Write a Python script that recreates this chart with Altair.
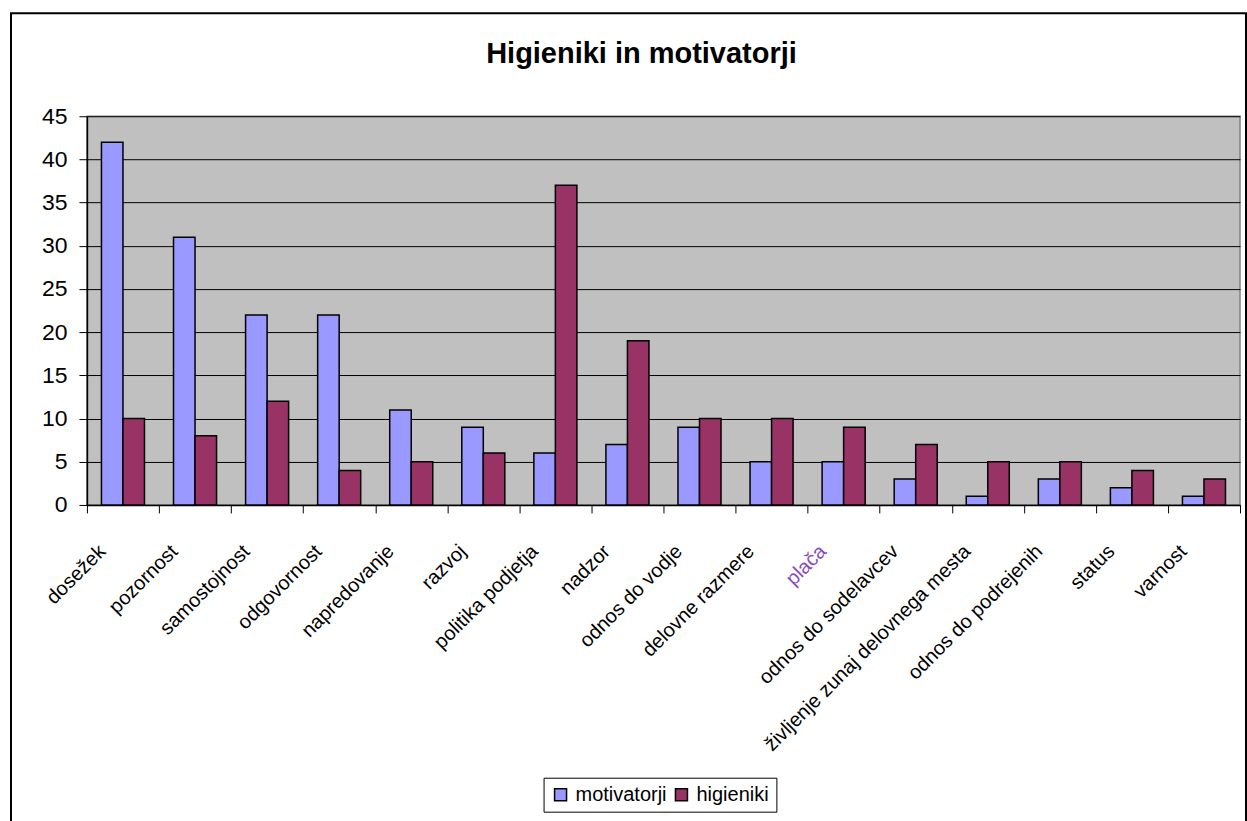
import altair as alt
import pandas as pd

categories = ["dosežek", "pozornost", "samostojnost", "odgovornost", "napredovanje",
              "razvoj", "politika podjetja", "nadzor", "odnos do vodje",
              "delovne razmere", "plača", "odnos do sodelavcev",
              "življenje zunaj delovnega mesta", "odnos do podrejenih", "status", "varnost"]
motivatorji = [42, 31, 22, 22, 11, 9, 6, 7, 9, 5, 5, 3, 1, 3, 2, 1]
higieniki = [10, 8, 12, 4, 5, 6, 37, 19, 10, 10, 9, 7, 5, 5, 4, 3]
series = ["motivatorji", "higieniki"]
colors = ["#9999FF", "#993366"]
y_ticks = [0, 5, 10, 15, 20, 25, 30, 35, 40, 45]
title_text = ["Higieniki in motivatorji"]

rows = []
for c, m, h in zip(categories, motivatorji, higieniki):
    rows.append({"kategorija": c, "serija": series[0], "vrednost": m})
    rows.append({"kategorija": c, "serija": series[1], "vrednost": h})
df = pd.DataFrame(rows)

FONT = "Liberation Sans"

bars = alt.Chart(df).mark_bar(stroke="black", strokeWidth=1.5).encode(
    x=alt.X("kategorija:N", sort=categories, title=None,
            scale=alt.Scale(paddingInner=0, paddingOuter=0),
            axis=alt.Axis(labelAngle=-45, labelAlign="right", labelBaseline="top",
                          labelFontSize=20, labelFont=FONT,
                          labelColor=alt.expr("datum.value == 'plača' ? '#8a4bbf' : 'black'"),
                          labelPadding=28, labelOffset=-28,
                          labelLimit=0, tickBand="extent", tickSize=8,
                          tickColor="black", domainColor="black", domainWidth=1.5,
                          grid=False, labelOverlap=False)),
    xOffset=alt.XOffset("serija:N", sort=series,
                        scale=alt.Scale(paddingInner=0, paddingOuter=0.675)),
    y=alt.Y("vrednost:Q", title=None,
            scale=alt.Scale(domain=[0, 45], nice=False),
            axis=alt.Axis(values=y_ticks, labelFontSize=23, labelFont=FONT,
                          labelColor="black", tickSize=8, tickColor="black",
                          domainColor="black", domainWidth=1.5, grid=True,
                          gridColor="black", gridWidth=1, labelPadding=12)),
    color=alt.Color("serija:N", sort=series,
                    scale=alt.Scale(domain=series, range=colors),
                    legend=alt.Legend(title=None, orient="none", direction="horizontal",
                                      legendX=457, legendY=662,
                                      strokeColor="black", padding=7,
                                      labelFontSize=20, labelFont=FONT, labelColor="black",
                                      symbolType="square", symbolSize=144,
                                      symbolStrokeColor="black", symbolStrokeWidth=1.5,
                                      columnPadding=4, labelOffset=5)),
)

title = alt.Chart(pd.DataFrame({"t": title_text})).mark_text(
    font=FONT, fontSize=29, fontWeight="bold", color="black",
    align="center", baseline="alphabetic"
).encode(text="t:N", x=alt.value(555), y=alt.value(-53))

border = alt.Chart(pd.DataFrame({"a": [0]})).mark_rect(
    fillOpacity=0, stroke="black", strokeWidth=2
).encode(
    x=alt.value(-76), x2=alt.value(1160), y=alt.value(-103), y2=alt.value(711)
)

chart = alt.layer(bars, title, border).properties(
    width=1154, height=389,
    padding={"left": 10, "top": 12, "right": 0, "bottom": 0},
    background="white",
).configure_view(fill="#C0C0C0", stroke="#808080", strokeWidth=1.5)

chart.save("out.html", embed_options={"renderer": "svg", "actions": False})
